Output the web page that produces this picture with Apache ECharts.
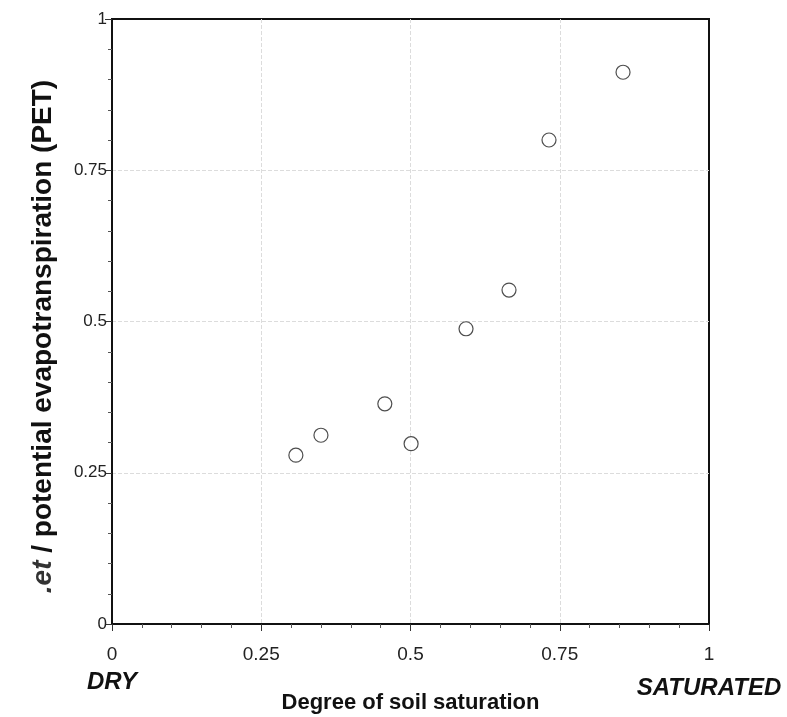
<!DOCTYPE html>
<html>
<head>
<meta charset="utf-8">
<script src="https://cdn.jsdelivr.net/npm/echarts@6/dist/echarts.min.js"></script>
<style>
html,body{margin:0;padding:0;background:#fff;}
#chart{width:787px;height:717px;}
</style>
</head>
<body>
<div id="chart"></div>
<script>
// Data
var saturation = [0.308, 0.350, 0.457, 0.501, 0.593, 0.665, 0.732, 0.856];
var etRatio    = [0.279, 0.312, 0.364, 0.298, 0.488, 0.552, 0.800, 0.912];
var xTitle = 'Degree of soil saturation';
var yTitleItalic = '.et';
var yTitleRest = ' / potential evapotranspiration (PET)';
var dryLabel = 'DRY';
var saturatedLabel = 'SATURATED';

var FONT = '"Liberation Sans", Arial, Helvetica, sans-serif';

var points = saturation.map(function (x, i) { return [x, etRatio[i]]; });

function fmtTick(v) {
  return String(+v.toFixed(2));
}

var chart = echarts.init(document.getElementById('chart'));
chart.setOption({
  animation: false,
  backgroundColor: '#fff',
  grid: {
    left: 112, right: 78, top: 19, bottom: 93,
    outerBoundsMode: 'none',
    containLabel: false,
    show: true, borderColor: '#111', borderWidth: 2, backgroundColor: 'transparent'
  },
  xAxis: {
    type: 'value', min: 0, max: 1, interval: 0.25,
    name: xTitle, nameLocation: 'middle', nameGap: 68, nameMoveOverlap: false,
    nameTextStyle: { fontFamily: FONT, fontWeight: 'bold', fontSize: 22, color: '#111' },
    axisLine: { show: true, lineStyle: { color: '#111', width: 2 } },
    axisTick: { show: true, length: 7, lineStyle: { color: '#333', width: 1 } },
    minorTick: { show: true, splitNumber: 5, length: 4, lineStyle: { color: '#555', width: 1 } },
    splitLine: { show: true, showMinLine: false, showMaxLine: false, lineStyle: { color: '#dcdcdc', type: 'dashed', width: 1 } },
    axisLabel: {
      margin: 20, color: '#222', fontFamily: FONT, fontSize: 19, lineHeight: 22,
      formatter: function (v) {
        var s = fmtTick(v);
        if (v === 0) return s + '\n{dry|' + dryLabel + '}';
        if (v === 1) return s + '\n{sat|' + saturatedLabel + '}';
        return s;
      },
      rich: {
        dry: { fontFamily: FONT, fontWeight: 'bold', fontStyle: 'italic', fontSize: 24, color: '#111', lineHeight: 32 },
        sat: { fontFamily: FONT, fontWeight: 'bold', fontStyle: 'italic', fontSize: 24, color: '#111', lineHeight: 44 }
      }
    }
  },
  yAxis: {
    type: 'value', min: 0, max: 1, interval: 0.25,
    name: '{it|' + yTitleItalic + '}' + yTitleRest,
    nameLocation: 'middle', nameGap: 55, nameRotate: 90, nameMoveOverlap: false,
    nameTextStyle: {
      fontFamily: FONT, fontWeight: 'bold', fontSize: 28, color: '#111',
      padding: [0, 30, 0, 0],
      rich: { it: { fontFamily: FONT, fontWeight: 'bold', fontStyle: 'italic', fontSize: 28, color: '#333' } }
    },
    axisLine: { show: true, lineStyle: { color: '#111', width: 2 } },
    axisTick: { show: true, length: 7, lineStyle: { color: '#333', width: 1 } },
    minorTick: { show: true, splitNumber: 5, length: 4, lineStyle: { color: '#555', width: 1 } },
    splitLine: { show: true, showMinLine: false, showMaxLine: false, lineStyle: { color: '#dcdcdc', type: 'dashed', width: 1 } },
    axisLabel: { margin: 5, color: '#222', fontFamily: FONT, fontSize: 17, formatter: fmtTick }
  },
  series: [{
    type: 'scatter',
    data: points,
    symbol: 'circle',
    symbolSize: 14,
    itemStyle: { color: '#fff', borderColor: '#222', borderWidth: 1.2 }
  }]
});
</script>
</body>
</html>
